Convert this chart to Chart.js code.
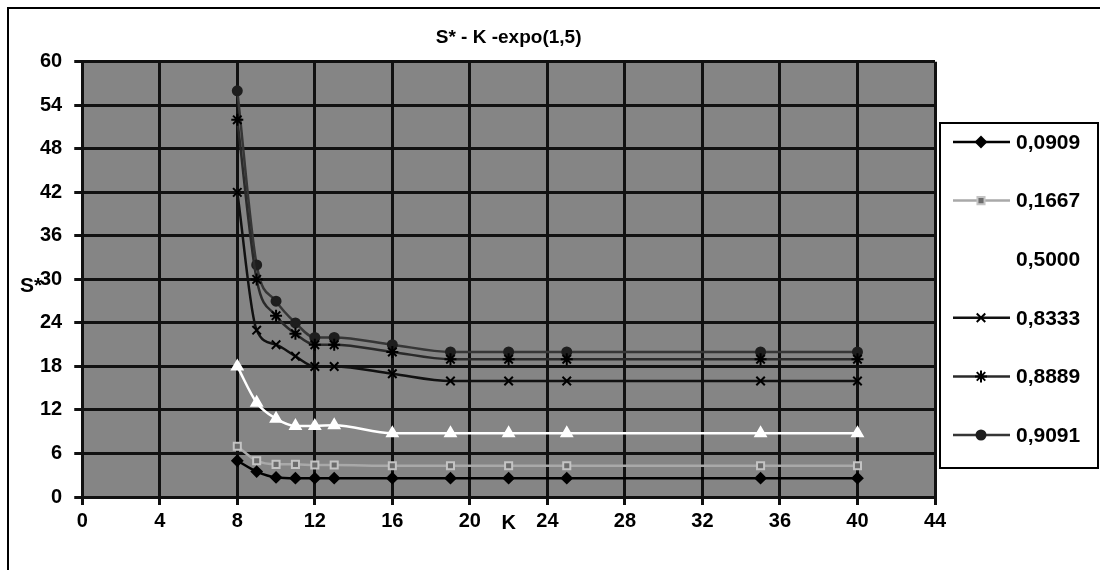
<!DOCTYPE html>
<html lang="en">
<head>
<meta charset="utf-8">
<title>S* - K -expo(1,5)</title>
<style>
  html, body { margin: 0; padding: 0; background: #fff; }
  #wrap { width: 1103px; height: 570px; }
</style>
</head>
<body>
<div id="wrap"><canvas id="myChart"></canvas></div>

<script src="https://cdn.jsdelivr.net/npm/chart.js"></script>
<script>
// K values on the x axis
const kValues = [8, 9, 10, 11, 12, 13, 16, 19, 22, 25, 35, 40];

// series names (legend) and S* values
const seriesNames = ["0,0909", "0,1667", "0,5000", "0,8333", "0,8889", "0,9091"];
const s0909 = [5, 3.5, 2.7, 2.6, 2.6, 2.6, 2.6, 2.6, 2.6, 2.6, 2.6, 2.6];
const s1667 = [7, 5, 4.5, 4.5, 4.4, 4.4, 4.3, 4.3, 4.3, 4.3, 4.3, 4.3];
const s5000 = [18, 13, 10.8, 9.8, 9.8, 9.9, 8.8, 8.8, 8.8, 8.8, 8.8, 8.8];
const s8333 = [42, 23, 21, 19.4, 18, 18, 17, 16, 16, 16, 16, 16];
const s8889 = [52, 30, 25, 22.5, 21, 21, 20, 19, 19, 19, 19, 19];
const s9091 = [56, 32, 27, 24, 22, 22, 21, 20, 20, 20, 20, 20];

// axis tick labels
const xTickValues = [0, 4, 8, 12, 16, 20, 24, 28, 32, 36, 40, 44];
const yTickValues = [0, 6, 12, 18, 24, 30, 36, 42, 48, 54, 60];

const allSeries = [s0909, s1667, s5000, s8333, s8889, s9091];

// look of each series, Excel-style
const looks = [
  { line: "#000000", fill: "#000000", edge: "#000000", style: "rectRot", r: 5 },
  { line: "#a9a9a9", fill: "#6c6c6c", edge: "#c4c4c4", style: "rect", r: 5 },
  { line: "#ffffff", fill: "#ffffff", edge: "#ffffff", style: "triangle", r: 6 },
  { line: "#111111", fill: "#000000", edge: "#000000", style: "crossRot", r: 6 },
  { line: "#2a2a2a", fill: "#000000", edge: "#000000", style: "star", r: 6 },
  { line: "#363636", fill: "#1e1e1e", edge: "#1e1e1e", style: "circle", r: 4.5 },
];

const datasets = allSeries.map((vals, i) => ({
  label: seriesNames[i],
  data: kValues.map((k, j) => ({ x: k, y: vals[j] })),
  borderColor: looks[i].line,
  borderWidth: 2.5,
  backgroundColor: looks[i].fill,
  pointBackgroundColor: looks[i].fill,
  pointBorderColor: looks[i].edge,
  pointBorderWidth: 2,
  pointStyle: looks[i].style,
  pointRadius: looks[i].r,
  cubicInterpolationMode: "monotone",
}));

const boldFont = (size) => ({ family: "'Liberation Sans', Arial, sans-serif", size: size, weight: "bold" });

// grey plot area, outer frame, boxed legend and the upright "S*" label
const sheet = {
  id: "sheet",
  beforeDraw(chart) {
    const { ctx, chartArea: a } = chart;
    ctx.save();
    ctx.fillStyle = "#858585";
    ctx.fillRect(a.left, a.top, a.right - a.left, a.bottom - a.top);
    ctx.strokeStyle = "#000";
    ctx.lineWidth = 2;
    ctx.beginPath();
    ctx.moveTo(8, chart.height);
    ctx.lineTo(8, 8);
    ctx.lineTo(chart.width - 3, 8);
    ctx.stroke();
    ctx.restore();
  },
  afterDraw(chart) {
    const { ctx, chartArea: a } = chart;
    const yScale = chart.scales.y;
    ctx.save();

    // legend box
    const left = a.right + 5, top = 123, right = chart.width - 5, bottom = 468;
    ctx.fillStyle = "#fff";
    ctx.fillRect(left, top, right - left, bottom - top);
    ctx.strokeStyle = "#000";
    ctx.lineWidth = 2;
    ctx.strokeRect(left, top, right - left, bottom - top);

    chart.data.datasets.forEach((ds, i) => {
      const y = top + 19 + i * 58.6;
      ctx.strokeStyle = ds.borderColor;
      ctx.lineWidth = 2.5;
      ctx.beginPath();
      ctx.moveTo(left + 13, y);
      ctx.lineTo(left + 70, y);
      ctx.stroke();
      ctx.fillStyle = ds.pointBackgroundColor;
      ctx.strokeStyle = ds.pointBorderColor;
      ctx.lineWidth = 2;
      Chart.helpers.drawPoint(ctx, { pointStyle: ds.pointStyle, radius: ds.pointRadius, rotation: 0, borderWidth: 2 }, left + 41, y);
      ctx.fillStyle = "#000";
      ctx.font = "bold 21px 'Liberation Sans', Arial, sans-serif";
      ctx.textAlign = "left";
      ctx.textBaseline = "middle";
      ctx.fillText(ds.label, left + 76, y + 1);
    });

    // y axis title written horizontally, as in the original
    ctx.fillStyle = "#000";
    ctx.font = "bold 21px 'Liberation Sans', Arial, sans-serif";
    ctx.textAlign = "center";
    ctx.textBaseline = "middle";
    ctx.fillText("S*", 31, yScale.getPixelForValue(29));
    ctx.restore();
  },
};

const ctx = document.getElementById("myChart");
new Chart(ctx, {
  type: "line",
  data: { datasets: datasets },
  plugins: [sheet],
  options: {
    responsive: true,
    maintainAspectRatio: false,
    animation: false,
    layout: { padding: { left: 28, right: 168, top: 0, bottom: 35 } },
    plugins: {
      legend: { display: false },
      tooltip: { enabled: false },
      title: {
        display: true,
        text: "S* - K -expo(1,5)",
        fullSize: false,
        color: "#000",
        font: boldFont(19),
        padding: { top: 26, bottom: 13 },
      },
    },
    scales: {
      x: {
        type: "linear",
        min: 0,
        max: 44,
        afterBuildTicks: (scale) => { scale.ticks = xTickValues.map((v) => ({ value: v })); },
        ticks: { color: "#000", font: boldFont(20), padding: 4, maxRotation: 0 },
        grid: { color: "#111", lineWidth: 3, tickLength: 8, tickColor: "#111" },
        border: { color: "#111", width: 3 },
        title: { display: true, text: "K", color: "#000", font: boldFont(20), padding: { top: -26, bottom: 0 } },
      },
      y: {
        min: 0,
        max: 60,
        afterBuildTicks: (scale) => { scale.ticks = yTickValues.map((v) => ({ value: v })); },
        ticks: { color: "#000", font: boldFont(20), padding: 12 },
        grid: { color: "#111", lineWidth: 3, tickLength: 8, tickColor: "#111" },
        border: { color: "#111", width: 3 },
      },
    },
  },
});
</script>
</body>
</html>
